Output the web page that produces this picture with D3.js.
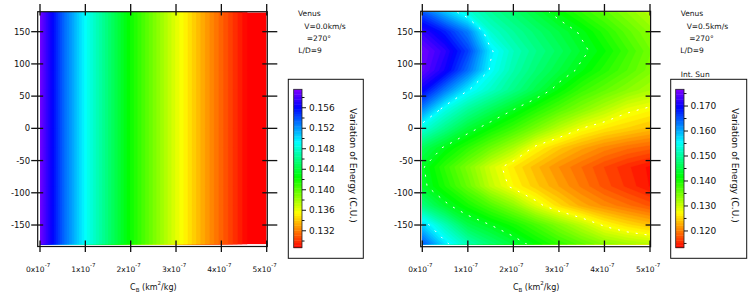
<!DOCTYPE html>
<html>
<head>
<meta charset="utf-8">
<script src="https://cdn.jsdelivr.net/npm/d3@7"></script>
<style>
  body { margin: 0; background: #fff; }
  svg text { font-family: "DejaVu Sans", sans-serif; fill: #111; }
</style>
</head>
<body>
<div id="chart"></div>
<script>
////////////////////////////////////////////////////////////////////////
// Data

// C_B grid in units of 1e-7 km^2/kg, psi grid in degrees (top row first)
const cbValues = [0, 0.5, 1, 1.5, 2, 2.5, 3, 3.5, 4, 4.5, 5];
const psiValues = [180, 150, 120, 90, 60, 30, 0, -30, -60, -90, -120, -150, -180];
const yTicks = [-150, -100, -50, 0, 50, 100, 150];
const xTicks = [0, 1, 2, 3, 4, 5];

// left panel (V = 0.0 km/s): energy only depends on C_B
const energyLeft = [0.1592, 0.1536, 0.1492, 0.1456, 0.1421, 0.1392, 0.1363, 0.1337, 0.1313, 0.1290, 0.1268];

// right panel (V = 0.5 km/s): one row per psi value
const energyRight = [
  [0.1650, 0.1590, 0.1535, 0.1500, 0.1475, 0.1448, 0.1418, 0.1390, 0.1365, 0.1340, 0.1315],
  [0.1722, 0.1680, 0.1625, 0.1530, 0.1500, 0.1475, 0.1450, 0.1425, 0.1395, 0.1365, 0.1338],
  [0.1758, 0.1720, 0.1660, 0.1565, 0.1520, 0.1490, 0.1465, 0.1438, 0.1412, 0.1382, 0.1352],
  [0.1751, 0.1705, 0.1635, 0.1555, 0.1510, 0.1478, 0.1450, 0.1422, 0.1395, 0.1370, 0.1345],
  [0.1701, 0.1630, 0.1563, 0.1525, 0.1490, 0.1455, 0.1418, 0.1385, 0.1362, 0.1340, 0.1322],
  [0.1622, 0.1545, 0.1500, 0.1465, 0.1432, 0.1400, 0.1370, 0.1342, 0.1315, 0.1288, 0.1275],
  [0.1538, 0.1490, 0.1445, 0.1412, 0.1382, 0.1348, 0.1312, 0.1280, 0.1262, 0.1250, 0.1238],
  [0.1464, 0.1425, 0.1390, 0.1355, 0.1320, 0.1272, 0.1245, 0.1225, 0.1208, 0.1195, 0.1186],
  [0.1434, 0.1388, 0.1345, 0.1298, 0.1262, 0.1235, 0.1212, 0.1192, 0.1172, 0.1155, 0.1140],
  [0.1438, 0.1400, 0.1358, 0.1308, 0.1272, 0.1245, 0.1222, 0.1200, 0.1178, 0.1160, 0.1142],
  [0.1485, 0.1438, 0.1405, 0.1372, 0.1338, 0.1292, 0.1255, 0.1228, 0.1210, 0.1195, 0.1180],
  [0.1580, 0.1515, 0.1455, 0.1430, 0.1405, 0.1375, 0.1342, 0.1310, 0.1275, 0.1255, 0.1240],
  [0.1650, 0.1570, 0.1515, 0.1478, 0.1448, 0.1418, 0.1390, 0.1365, 0.1340, 0.1325, 0.1315]
];

// colour bar ranges and labels
const rangeLeft = [0.1287, 0.1596];
const barTicksLeft = [0.132, 0.136, 0.140, 0.144, 0.148, 0.152, 0.156];
const barMinorLeft = [0.130, 0.134, 0.138, 0.142, 0.146, 0.150, 0.154, 0.158];
const rangeRight = [0.1133, 0.1767];
const barTicksRight = [0.120, 0.130, 0.140, 0.150, 0.160, 0.170];
const barMinorRight = [0.115, 0.125, 0.135, 0.145, 0.155, 0.165, 0.175];

// white dashed contour levels seen in the right panel
const contourLevelsRight = [0.156, 0.143, 0.128];

const notesLeft = ["Venus", "V=0.0km/s", "=270°", "L/D=9"];
const notesRight = ["Venus", "V=0.5km/s", "=270°", "L/D=9", "Int. Sun"];

////////////////////////////////////////////////////////////////////////
// Layout

const width = 750, height = 299;
const nBands = 64;

const svg = d3.select("#chart").append("svg")
  .attr("width", width)
  .attr("height", height);

const yScale = d3.scaleLinear().domain([-180, 180]).range([244.35, 12.35]);

// rainbow: red (low) -> violet (high)
function rainbow(t) {
  t = Math.max(0, Math.min(1, t));
  return d3.hsl(270 * t, 1, 0.5).formatHex();
}

// maps d3.contours grid coordinates onto the plot
function gridProjection(x, y) {
  const dcb = cbValues[1] - cbValues[0];
  const dpsi = psiValues[1] - psiValues[0];
  return d3.geoTransform({
    point: function(gx, gy) {
      this.stream.point(x(cbValues[0] + (gx - 0.5) * dcb),
                        y(psiValues[0] + (gy - 0.5) * dpsi));
    }
  });
}

function drawPanel(id, xScale, grid, range, frame, whiteLevels) {
  const g = svg.append("g");
  const nx = cbValues.length, ny = psiValues.length;
  const flat = grid.flat();
  const step = (range[1] - range[0]) / nBands;
  const thresholds = d3.range(nBands).map(i => range[0] + i * step);
  const colorOf = v => rainbow((v - range[0]) / (range[1] - range[0]));

  svg.append("clipPath").attr("id", id)
    .append("rect")
    .attr("x", xScale(0)).attr("y", yScale(180))
    .attr("width", xScale(5) - xScale(0))
    .attr("height", yScale(-180) - yScale(180));

  const heat = g.append("g").attr("clip-path", `url(#${id})`);

  heat.append("rect")
    .attr("x", xScale(0)).attr("y", yScale(180))
    .attr("width", xScale(5) - xScale(0))
    .attr("height", yScale(-180) - yScale(180))
    .attr("fill", rainbow(0));

  const path = d3.geoPath(gridProjection(xScale, yScale));
  const bands = d3.contours().size([nx, ny]).thresholds(thresholds)(flat);

  heat.selectAll("path.band")
    .data(bands)
    .join("path")
    .attr("class", "band")
    .attr("d", path)
    .attr("fill", d => colorOf(d.value + step / 2))
    .attr("stroke", d => colorOf(d.value + step / 2))
    .attr("stroke-width", 0.4);

  if (whiteLevels) {
    heat.selectAll("path.iso")
      .data(d3.contours().size([nx, ny]).thresholds(whiteLevels)(flat))
      .join("path")
      .attr("class", "iso")
      .attr("d", path)
      .attr("fill", "none")
      .attr("stroke", "#fff")
      .attr("stroke-width", 1)
      .attr("stroke-dasharray", "2 7");
  }

  // frame
  g.append("rect")
    .attr("x", frame[0]).attr("y", frame[1])
    .attr("width", frame[2] - frame[0])
    .attr("height", frame[3] - frame[1])
    .attr("fill", "none")
    .attr("stroke", "#111")
    .attr("stroke-width", 1.2);

  // x ticks, top and bottom
  g.selectAll("line.xt")
    .data(xTicks)
    .join("line").attr("class", "xt")
    .attr("x1", d => xScale(d)).attr("x2", d => xScale(d))
    .attr("y1", 4).attr("y2", 15.5)
    .attr("stroke", "#111").attr("stroke-width", 1.3);
  g.selectAll("line.xb")
    .data(xTicks)
    .join("line").attr("class", "xb")
    .attr("x1", d => xScale(d)).attr("x2", d => xScale(d))
    .attr("y1", 240.5).attr("y2", 252)
    .attr("stroke", "#111").attr("stroke-width", 1.3);

  // y ticks, left and right
  g.selectAll("line.yl")
    .data(yTicks)
    .join("line").attr("class", "yl")
    .attr("x1", frame[0] - 6.5).attr("x2", frame[0] + 5.5)
    .attr("y1", d => yScale(d)).attr("y2", d => yScale(d))
    .attr("stroke", "#111").attr("stroke-width", 1.3);
  g.selectAll("line.yr")
    .data(yTicks)
    .join("line").attr("class", "yr")
    .attr("x1", frame[2] - 5).attr("x2", frame[2] + 10)
    .attr("y1", d => yScale(d)).attr("y2", d => yScale(d))
    .attr("stroke", "#111").attr("stroke-width", 1.3);

  g.selectAll("text.yl")
    .data(yTicks)
    .join("text").attr("class", "yl")
    .attr("x", frame[0] - 7.5)
    .attr("y", d => yScale(d) + 3)
    .attr("text-anchor", "end")
    .attr("font-size", "8.5px")
    .text(d => d);

  const xl = g.selectAll("text.xl")
    .data(xTicks)
    .join("text").attr("class", "xl")
    .attr("x", d => xScale(d) - 2)
    .attr("y", 271.5)
    .attr("text-anchor", "middle")
    .attr("font-size", "7.5px");
  xl.append("tspan").text(d => d + "x10");
  xl.append("tspan").attr("dy", -5).attr("font-size", "5.5px").text("-7");

  const title = g.append("text")
    .attr("x", (xScale(0) + xScale(5)) / 2)
    .attr("y", 290)
    .attr("text-anchor", "middle")
    .attr("font-size", "8px");
  title.append("tspan").text("C");
  title.append("tspan").attr("dy", 2).attr("font-size", "5.5px").text("B");
  title.append("tspan").attr("dy", -2).text(" (km");
  title.append("tspan").attr("dy", -5).attr("font-size", "5.5px").text("2");
  title.append("tspan").attr("dy", 5).text("/kg)");

  return g;
}

function drawColorBar(range, majors, minors, bar, box, labelX, titleX) {
  const g = svg.append("g");
  const bScale = d3.scaleLinear().domain(range).range([bar[3], bar[1]]);
  const step = (range[1] - range[0]) / nBands;

  g.append("rect")
    .attr("x", box[0]).attr("y", box[1])
    .attr("width", box[2] - box[0]).attr("height", box[3] - box[1])
    .attr("fill", "#fff").attr("stroke", "#111").attr("stroke-width", 1);

  g.selectAll("rect.cb")
    .data(d3.range(nBands))
    .join("rect").attr("class", "cb")
    .attr("x", bar[0])
    .attr("width", bar[2] - bar[0])
    .attr("y", i => bScale(range[0] + (i + 1) * step))
    .attr("height", i => bScale(range[0] + i * step) - bScale(range[0] + (i + 1) * step) + 0.4)
    .attr("fill", i => rainbow((i + 0.5) / nBands));

  g.append("rect")
    .attr("x", bar[0]).attr("y", bar[1])
    .attr("width", bar[2] - bar[0]).attr("height", bar[3] - bar[1])
    .attr("fill", "none").attr("stroke", "#222").attr("stroke-width", 0.8);

  g.selectAll("line.maj")
    .data(majors)
    .join("line").attr("class", "maj")
    .attr("x1", bar[2]).attr("x2", bar[2] + 4)
    .attr("y1", d => bScale(d)).attr("y2", d => bScale(d))
    .attr("stroke", "#111").attr("stroke-width", 1);
  g.selectAll("line.min")
    .data(minors)
    .join("line").attr("class", "min")
    .attr("x1", bar[2]).attr("x2", bar[2] + 2.5)
    .attr("y1", d => bScale(d)).attr("y2", d => bScale(d))
    .attr("stroke", "#111").attr("stroke-width", 1);

  g.selectAll("text.lab")
    .data(majors)
    .join("text").attr("class", "lab")
    .attr("x", labelX)
    .attr("y", d => bScale(d) + 3.2)
    .attr("font-size", "9px")
    .text(d => d3.format(".3f")(d));

  g.append("text")
    .attr("transform", `translate(${titleX},165.5) rotate(90)`)
    .attr("text-anchor", "middle")
    .attr("font-size", "9px")
    .text("Variation of Energy (C.U.)");
}

function drawNotes(lines, xs, ys) {
  svg.append("g").selectAll("text")
    .data(lines)
    .join("text")
    .attr("x", (d, i) => xs[i])
    .attr("y", (d, i) => ys[i])
    .attr("font-size", "7.5px")
    .text(d => d);
}

////////////////////////////////////////////////////////////////////////
// Left panel

const xLeft = d3.scaleLinear().domain([0, 5]).range([40, 266.7]);
const gridLeft = psiValues.map(() => energyLeft);
drawPanel("clipL", xLeft, gridLeft, rangeLeft, [37.7, 11.7, 267.3, 246.5], null);
drawColorBar(rangeLeft, barTicksLeft, barMinorLeft,
  [293.7, 89.3, 302, 247.7], [288.3, 79.3, 363.3, 258.3], 309, 349.5);
drawNotes(notesLeft, [298, 304.3, 306.7, 298.3], [16, 29.3, 41, 52.7]);

////////////////////////////////////////////////////////////////////////
// Right panel

const xRight = d3.scaleLinear().domain([0, 5]).range([422.3, 650]);
drawPanel("clipR", xRight, energyRight, rangeRight, [420.7, 11.3, 650.6, 246.7], contourLevelsRight);
drawColorBar(rangeRight, barTicksRight, barMinorRight,
  [675.7, 89.3, 684, 247.7], [670.7, 79.3, 746.7, 258.3], 690.5, 731.5);
drawNotes(notesRight, [680.7, 686.7, 689.3, 680.3, 680.7], [16, 29.3, 41, 52.7, 76.5]);
</script>
</body>
</html>
